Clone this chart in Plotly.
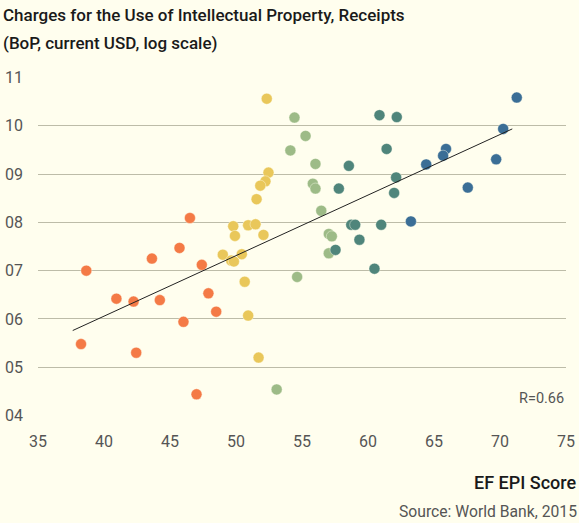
import plotly.graph_objects as go

# ---- data ----
orange_x = [38.26, 38.66, 40.94, 42.24, 42.44, 43.63, 44.23, 45.72, 46.02, 46.51, 47.01, 47.41, 47.91, 48.50]
orange_y = [5.48, 7.00, 6.42, 6.36, 5.30, 7.25, 6.39, 7.47, 5.94, 8.09, 4.44, 7.12, 6.53, 6.15]

yellow_x = [52.33, 52.46, 52.23, 51.84, 51.56, 49.79, 49.92, 50.92, 51.48, 52.08, 49.00, 49.64, 49.84, 50.44, 50.66, 50.92, 51.71]
yellow_y = [10.56, 9.03, 8.85, 8.76, 8.48, 7.92, 7.72, 7.94, 7.96, 7.74, 7.33, 7.21, 7.19, 7.34, 6.77, 6.07, 5.20]

lgreen_x = [54.43, 55.27, 54.12, 56.02, 55.82, 56.02, 56.46, 57.03, 57.26, 57.03, 54.63, 53.08]
lgreen_y = [10.17, 9.79, 9.49, 9.21, 8.80, 8.70, 8.24, 7.76, 7.71, 7.36, 6.87, 4.54]

teal_x = [60.87, 62.18, 61.41, 58.55, 57.79, 62.13, 61.98, 58.73, 59.03, 61.00, 59.35, 57.54, 60.49]
teal_y = [10.22, 10.18, 9.52, 9.17, 8.70, 8.93, 8.61, 7.95, 7.95, 7.95, 7.64, 7.43, 7.04]

blue_x = [71.27, 70.24, 65.91, 65.69, 64.41, 69.71, 67.56, 63.25]
blue_y = [10.585, 9.935, 9.52, 9.38, 9.20, 9.305, 8.72, 8.02]

trend_x = [37.63, 70.93]
trend_y = [5.76, 9.935]

y_tickvals = [4, 5, 6, 7, 8, 9, 10, 11]
y_ticktext = ["04", "05", "06", "07", "08", "09", "10", "11"]
x_tickvals = [35, 40, 45, 50, 55, 60, 65, 70, 75]

# ---- styling ----
W, H = 579, 523
L, R, T, B = 38, 13, 77, 107
BG = "#fffeee"
FONT = "Roboto"

groups = [
    (orange_x, orange_y, "#f47a46"),
    (yellow_x, yellow_y, "#e9c75a"),
    (lgreen_x, lgreen_y, "#9dbb87"),
    (teal_x, teal_y, "#4f857b"),
    (blue_x, blue_y, "#3b6e96"),
]

fig = go.Figure()
for gx, gy, col in groups:
    fig.add_trace(go.Scatter(
        x=gx, y=gy, mode="markers",
        marker=dict(size=11, color=col, line=dict(width=0.6, color="rgba(255,254,238,0.7)")),
        showlegend=False, hoverinfo="skip"))

fig.add_trace(go.Scatter(x=trend_x, y=trend_y, mode="lines",
                         line=dict(color="#222222", width=1), showlegend=False, hoverinfo="skip"))

pw = W - L - R
ph = H - T - B

def px(xp):
    return (xp - L) / pw

def py(yp):
    return (H - B - yp) / ph

anns = [
    dict(text="Charges for the Use of Intellectual Property, Receipts", x=px(1), y=py(15),
         xanchor="left", yanchor="middle", font=dict(size=17, color="#1a1a1a", family=FONT, weight=500)),
    dict(text="(BoP, current USD, log scale)", x=px(1), y=py(43),
         xanchor="left", yanchor="middle", font=dict(size=17, color="#1a1a1a", family=FONT, weight=500)),
    dict(text="EF EPI Score", x=px(578), y=py(482),
         xanchor="right", yanchor="middle", font=dict(size=18, color="#1a1a1a", family=FONT, weight=500)),
    dict(text="Source: World Bank, 2015", x=px(579), y=py(511),
         xanchor="right", yanchor="middle", font=dict(size=15.7, color="#555555", family=FONT)),
    dict(text="R=0.66", x=px(566), y=py(398),
         xanchor="right", yanchor="middle", font=dict(size=14.5, color="#555555", family=FONT)),
]
for a in anns:
    a.update(xref="paper", yref="paper", showarrow=False)

fig.update_layout(
    width=W, height=H,
    margin=dict(l=L, r=R, t=T, b=B),
    paper_bgcolor=BG, plot_bgcolor=BG,
    annotations=anns,
    xaxis=dict(range=[35, 75], tickvals=x_tickvals, showgrid=False, zeroline=False,
               showline=False, ticks="", ticklabelstandoff=14, automargin=False,
               tickfont=dict(size=16, color="#555555", family=FONT)),
    yaxis=dict(range=[3.99, 11.01], tickvals=y_tickvals, ticktext=y_ticktext,
               showgrid=True, gridcolor="#bdbca8", gridwidth=1, zeroline=False,
               showline=False, ticks="", ticklabelstandoff=14, automargin=False,
               tickfont=dict(size=16, color="#555555", family=FONT)),
)

fig.write_html("out.html", config={"displayModeBar": False},
               post_script="document.body.style.margin='0';document.body.style.background='#fffeee';")
